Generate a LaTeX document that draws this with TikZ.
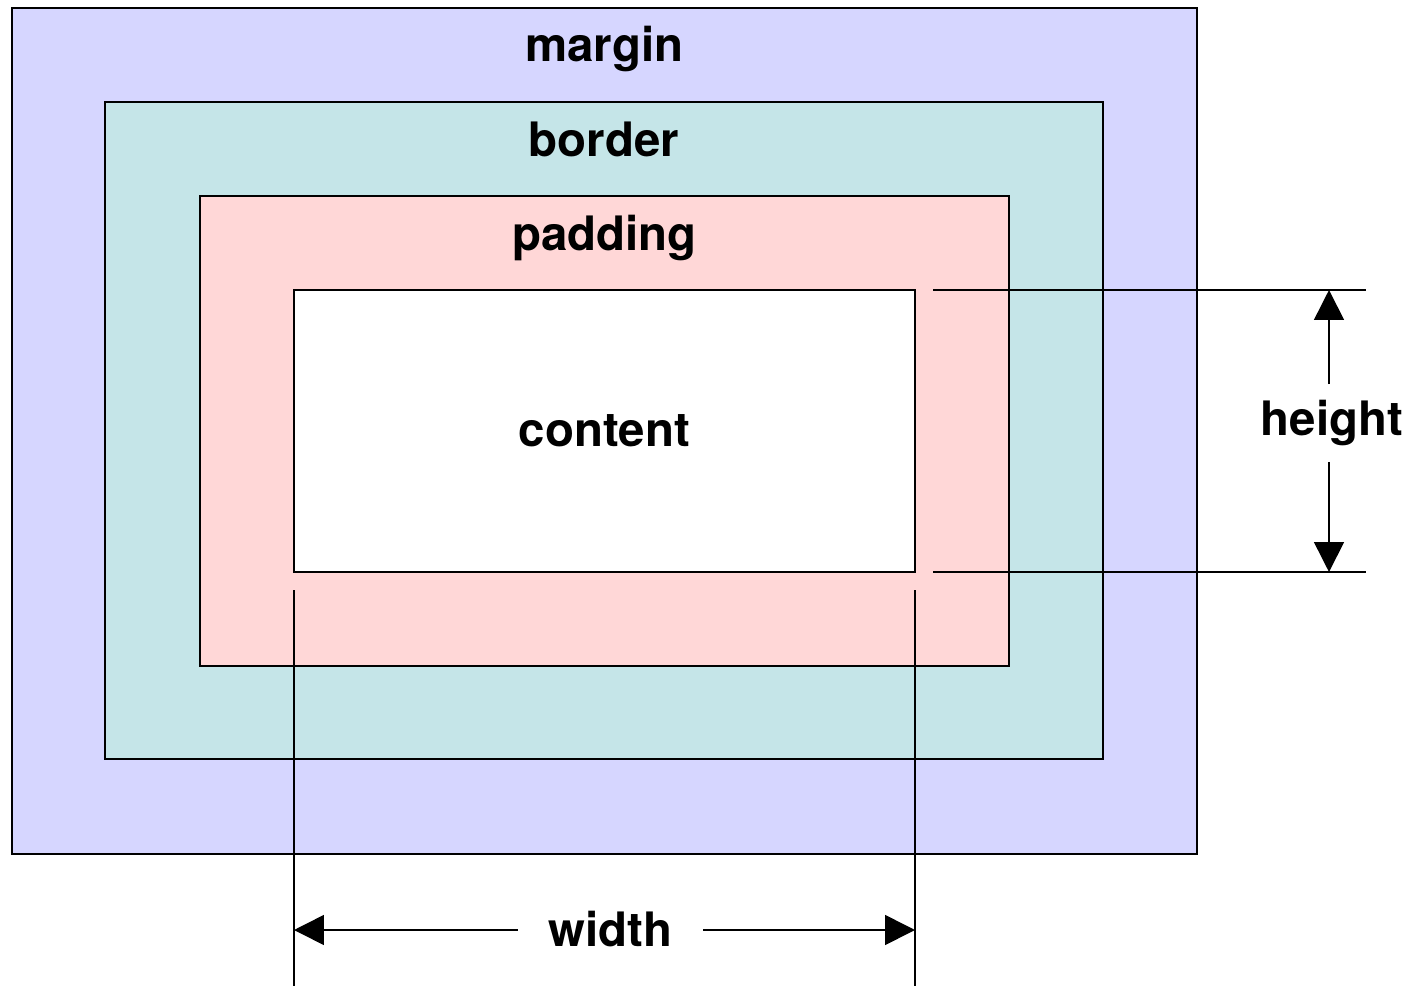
\documentclass[tikz,border=0pt]{standalone}
\usepackage{fontspec}
\setmainfont{TeX Gyre Heros}
\usepackage{xcolor}
\usetikzlibrary{positioning,calc,arrows.meta}

\definecolor{marginblue}{RGB}{214,214,255}
\definecolor{bordercyan}{RGB}{197,229,232}
\definecolor{paddingpink}{RGB}{255,215,215}

\tikzset{
	box/.style={rectangle, draw, line width=1.1pt, inner sep=0pt},
	dim/.style={line width=0.9pt},
	dimarrow/.style={dim, -{Triangle[length=0.6cm, width=0.6cm]}}
}

\begin{document}
\begin{tikzpicture}[x=0.02cm, y=-0.02cm, every node/.style={font=\fontsize{27}{32}\selectfont\bfseries}]
	\useasboundingbox (0,0) rectangle (1419,986);
	% nested boxes
	\node[box, fill=marginblue, minimum width=23.7cm, minimum height=16.92cm] (margin) at (604.5,431) {};
	\node[box, fill=bordercyan, minimum width=19.96cm, minimum height=13.14cm] (border) at (604,430.5) {};
	\node[box, fill=paddingpink, minimum width=16.18cm, minimum height=9.4cm] (padding) at (604.5,431) {};
	\node[box, fill=white, minimum width=12.42cm, minimum height=5.64cm] (content) at (604.5,431) {};

	\node[anchor=base] (marginlabel) at ($(margin.north)+(0,54)$) {margin};
	\node[anchor=base] (borderlabel) at ($(border.north)+(0,55)$) {border};
	\node[anchor=base] (paddinglabel) at ($(padding.north)+(0,55)$) {padding};
	\node[anchor=base] (contentlabel) at ($(content.center)+(0,15)$) {content};

	% height
	\coordinate (ht1) at (933,290);
	\coordinate (ht2) at (1366,290);
	\coordinate (hb1) at (933,572);
	\coordinate (hb2) at (1366,572);
	\coordinate (htop) at (1329,290);
	\coordinate (hbot) at (1329,572);
	\draw[dim] (ht1) -- (ht2);
	\draw[dim] (hb1) -- (hb2);
	\node[inner sep=0pt, minimum height=1.54cm] (height) at (1332,423) {height};
	\draw[dimarrow] (height.north -| htop) -- (htop);
	\draw[dimarrow] (height.south -| hbot) -- (hbot);

	% width
	\coordinate (wl1) at (294,590);
	\coordinate (wl2) at (294,986);
	\coordinate (wr1) at (915,590);
	\coordinate (wr2) at (915,986);
	\coordinate (wleft) at (294,930);
	\coordinate (wright) at (915,930);
	\draw[dim] (wl1) -- (wl2);
	\draw[dim] (wr1) -- (wr2);
	\node[inner sep=0pt, minimum width=3.7cm] (width) at (610.5,929) {width};
	\draw[dimarrow] (width.west |- wleft) -- (wleft);
	\draw[dimarrow] (width.east |- wright) -- (wright);
\end{tikzpicture}
\end{document}
